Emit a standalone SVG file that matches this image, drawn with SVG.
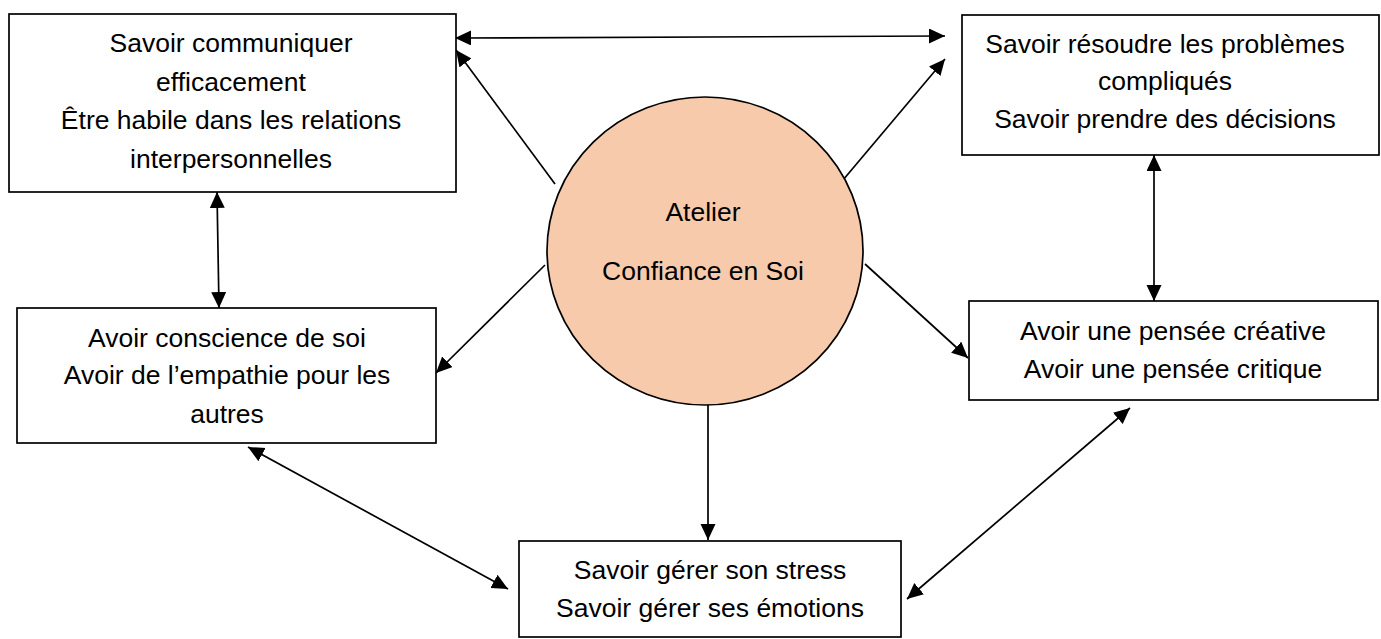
<svg xmlns="http://www.w3.org/2000/svg" width="1381" height="639" viewBox="0 0 1381 639">
<style>
.box{fill:#ffffff;stroke:#000000;stroke-width:1.7}
.circ{fill:#F7CAAC;stroke:#000000;stroke-width:1.7}
.t{font-family:"Liberation Sans",Arial,sans-serif;font-size:26.5px;fill:#000000;text-anchor:middle}
.c{stroke:#000000;stroke-width:1.7;fill:none}
.one{marker-end:url(#ah)}
.two{marker-start:url(#ah);marker-end:url(#ah)}
</style>
<defs>
<marker id="ah" markerUnits="userSpaceOnUse" markerWidth="18" markerHeight="16" refX="16" refY="7.5" orient="auto-start-reverse">
<path d="M0,0 L16,7.5 L0,15 z" fill="#000000"/>
</marker>
</defs>
<rect width="1381" height="639" fill="#ffffff"/>
<g id="connectors">
<line class="c two" x1="455" y1="38" x2="945" y2="36"/>
<line class="c one" x1="555" y1="184" x2="456" y2="50"/>
<line class="c one" x1="843" y1="180" x2="945" y2="59"/>
<line class="c two" x1="217" y1="192" x2="219" y2="308"/>
<line class="c two" x1="1154" y1="155" x2="1154" y2="301"/>
<line class="c one" x1="545" y1="265" x2="436" y2="373"/>
<line class="c one" x1="865" y1="264" x2="968" y2="358"/>
<line class="c one" x1="708" y1="405" x2="708" y2="540"/>
<line class="c two" x1="248" y1="447" x2="508" y2="589"/>
<line class="c two" x1="1130" y1="408" x2="907" y2="599"/>
</g>
<g id="node-communiquer">
<rect class="box" x="9" y="14" width="447" height="178"/>
<text class="t" x="231" y="52">Savoir communiquer</text>
<text class="t" x="231" y="91">efficacement</text>
<text class="t" x="231" y="129">Être habile dans les relations</text>
<text class="t" x="231" y="168">interpersonnelles</text>
</g>
<g id="node-resoudre">
<rect class="box" x="962" y="15" width="417" height="140"/>
<text class="t" x="1165" y="53">Savoir résoudre les problèmes</text>
<text class="t" x="1165" y="90">compliqués</text>
<text class="t" x="1165" y="128">Savoir prendre des décisions</text>
</g>
<g id="node-conscience">
<rect class="box" x="17" y="308" width="419" height="135"/>
<text class="t" x="227" y="347">Avoir conscience de soi</text>
<text class="t" x="227" y="384">Avoir de l’empathie pour les</text>
<text class="t" x="227" y="423">autres</text>
</g>
<g id="node-pensee">
<rect class="box" x="969" y="301" width="409" height="99"/>
<text class="t" x="1173" y="340">Avoir une pensée créative</text>
<text class="t" x="1173" y="378">Avoir une pensée critique</text>
</g>
<g id="node-stress">
<rect class="box" x="519" y="541" width="382" height="96"/>
<text class="t" x="710" y="579">Savoir gérer son stress</text>
<text class="t" x="710" y="617">Savoir gérer ses émotions</text>
</g>
<g id="node-atelier">
<ellipse class="circ" cx="705" cy="251" rx="158" ry="154"/>
<text class="t" x="703" y="221">Atelier</text>
<text class="t" x="703" y="280">Confiance en Soi</text>
</g>
</svg>
